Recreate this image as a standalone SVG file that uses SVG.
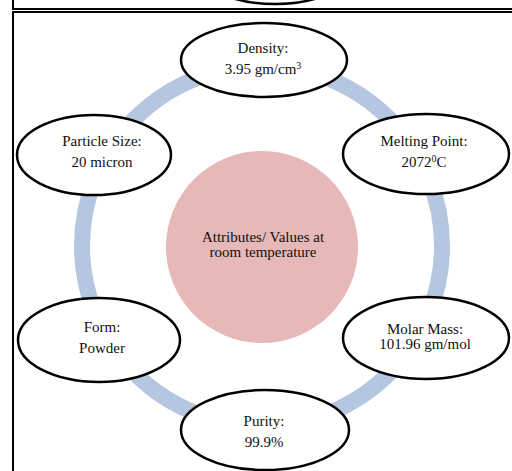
<svg xmlns="http://www.w3.org/2000/svg" width="512" height="471" viewBox="0 0 512 471">
<style>
.frame{fill:none;stroke:#000;stroke-width:2}
.node{fill:#fff;stroke:#000;stroke-width:2.5}
.t{font-family:"Liberation Serif","Times New Roman",serif;font-size:15px;fill:#111;text-anchor:middle}
.sup{font-size:10px}
</style>
<rect width="512" height="471" fill="#fff"/>
<g id="frames">
<line class="frame" x1="13" y1="0" x2="13" y2="9"/>
<line class="frame" x1="12" y1="9" x2="512" y2="9"/>
<line class="frame" x1="12" y1="12" x2="512" y2="12"/>
<line class="frame" x1="13" y1="12" x2="13" y2="471"/>
<ellipse cx="275" cy="-35" rx="80" ry="39" fill="none" stroke="#000" stroke-width="2.5"/>
</g>
<g id="connectors">
<circle cx="262" cy="246" r="180" fill="none" stroke="#b4c6e0" stroke-width="16"/>
</g>
<g id="center">
<circle cx="262" cy="247" r="96" fill="#e6b8b7"/>
<text class="t" x="263" y="242">Attributes/ Values at</text>
<text class="t" x="263" y="257">room temperature</text>
</g>
<g id="density">
<ellipse class="node" cx="264" cy="60" rx="83" ry="37"/>
<text class="t" x="263" y="53">Density:</text>
<text class="t" x="263" y="74">3.95 gm/cm<tspan class="sup" dy="-5">3</tspan></text>
</g>
<g id="melting">
<ellipse class="node" cx="426" cy="154" rx="83" ry="40"/>
<text class="t" x="424" y="146">Melting Point:</text>
<text class="t" x="424" y="167">2072<tspan class="sup" dy="-5">0</tspan><tspan dy="5">C</tspan></text>
</g>
<g id="particle">
<ellipse class="node" cx="94" cy="155" rx="77" ry="40"/>
<text class="t" x="102" y="146">Particle Size:</text>
<text class="t" x="102" y="167">20 micron</text>
</g>
<g id="form">
<ellipse class="node" cx="99" cy="340" rx="81" ry="42"/>
<text class="t" x="102" y="332">Form:</text>
<text class="t" x="102" y="353">Powder</text>
</g>
<g id="molar">
<ellipse class="node" cx="426" cy="338" rx="83" ry="41"/>
<text class="t" x="425" y="334">Molar Mass:</text>
<text class="t" x="425" y="349">101.96 gm/mol</text>
</g>
<g id="purity">
<ellipse class="node" cx="265" cy="430" rx="84" ry="40"/>
<text class="t" x="264" y="426">Purity:</text>
<text class="t" x="264" y="447">99.9%</text>
</g>
</svg>
